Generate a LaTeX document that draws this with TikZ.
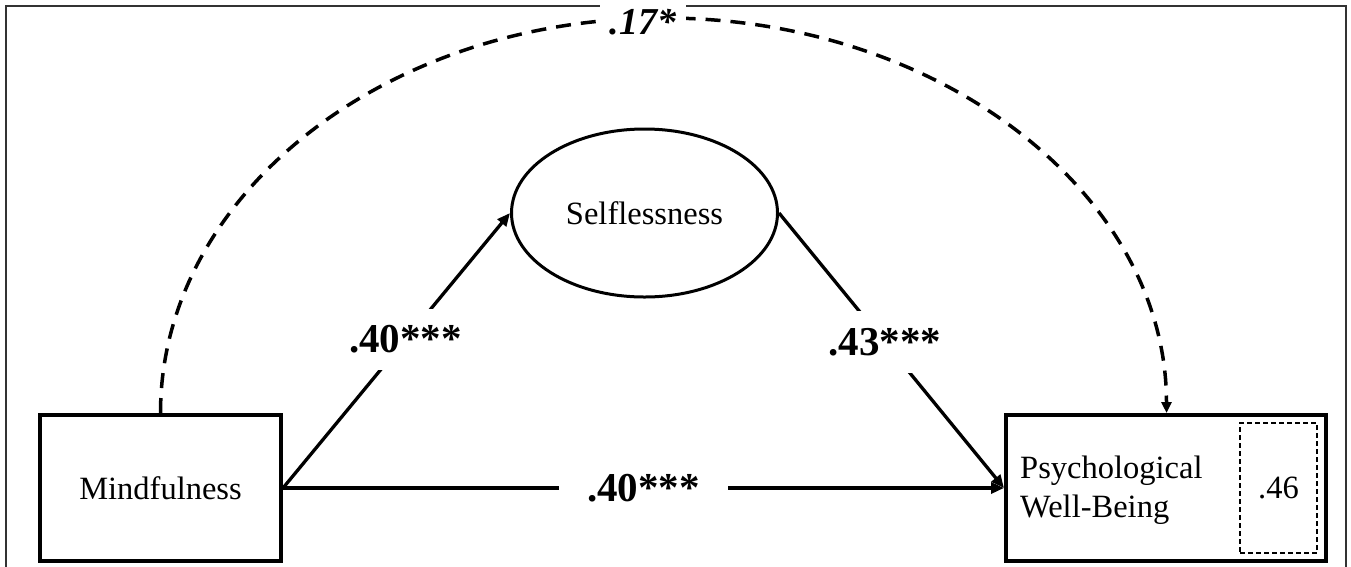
\documentclass[tikz,border=0pt]{standalone}
\usepackage{fontspec}
\setmainfont{Liberation Serif}
\usetikzlibrary{shapes.geometric,arrows.meta}
\begin{document}
\begin{tikzpicture}[x=1pt,y=-1pt,
  box/.style={draw,line width=4pt,font=\fontsize{32.5}{39}\selectfont},
  conn/.style={line width=3.3pt,-{Triangle[length=13pt,width=11pt]}},
  dasharc/.style={line width=3.5pt,dash pattern=on 15pt off 10pt,-{Triangle[length=11pt,width=10pt]}},
  coef/.style={fill=white,inner xsep=28pt,inner ysep=17pt,font=\fontsize{41}{42}\selectfont\bfseries},
  plain/.style={font=\fontsize{32.5}{39}\selectfont}]
\useasboundingbox (0,0) rectangle (1351,566);
\draw[line width=2pt,draw=black!80] (6,570) -- (6,6) -- (1346,6) -- (1346,570);
\node[box,minimum width=241pt,minimum height=146pt] (m) at (160.5,488) {Mindfulness};
\node[box,minimum width=320pt,minimum height=146pt] (p) at (1166,488) {};
\node[plain,anchor=west,align=left,inner sep=0pt] (ptxt) at (1020,490) {Psychological\\Well-Being};
\node[draw,line width=1.2pt,dash pattern=on 5pt off 3pt,minimum width=77pt,minimum height=130pt,plain] (r) at (1278.5,488) {.46};
\node[draw,ellipse,line width=3pt,minimum width=266pt,minimum height=168pt,plain] (s) at (644.5,213) {Selflessness};
\draw[conn] (m.east) -- node[coef,pos=0.54] (l1) {.40***} (s.west);
\draw[conn] (s.east) -- node[coef,pos=0.47] (l2) {.43***} (p.west);
\draw[conn] (m.east) -- node[coef,pos=0.5] (l3) {.40***} (p.west);
\draw[dasharc] (m.north) arc[start angle=180,end angle=0,x radius=503pt,y radius=395pt];
\node[fill=white,inner xsep=10pt,inner ysep=4pt,font=\fontsize{38}{40}\selectfont\bfseries\itshape] (l4) at (643,22) {.17*};
\end{tikzpicture}
\end{document}
